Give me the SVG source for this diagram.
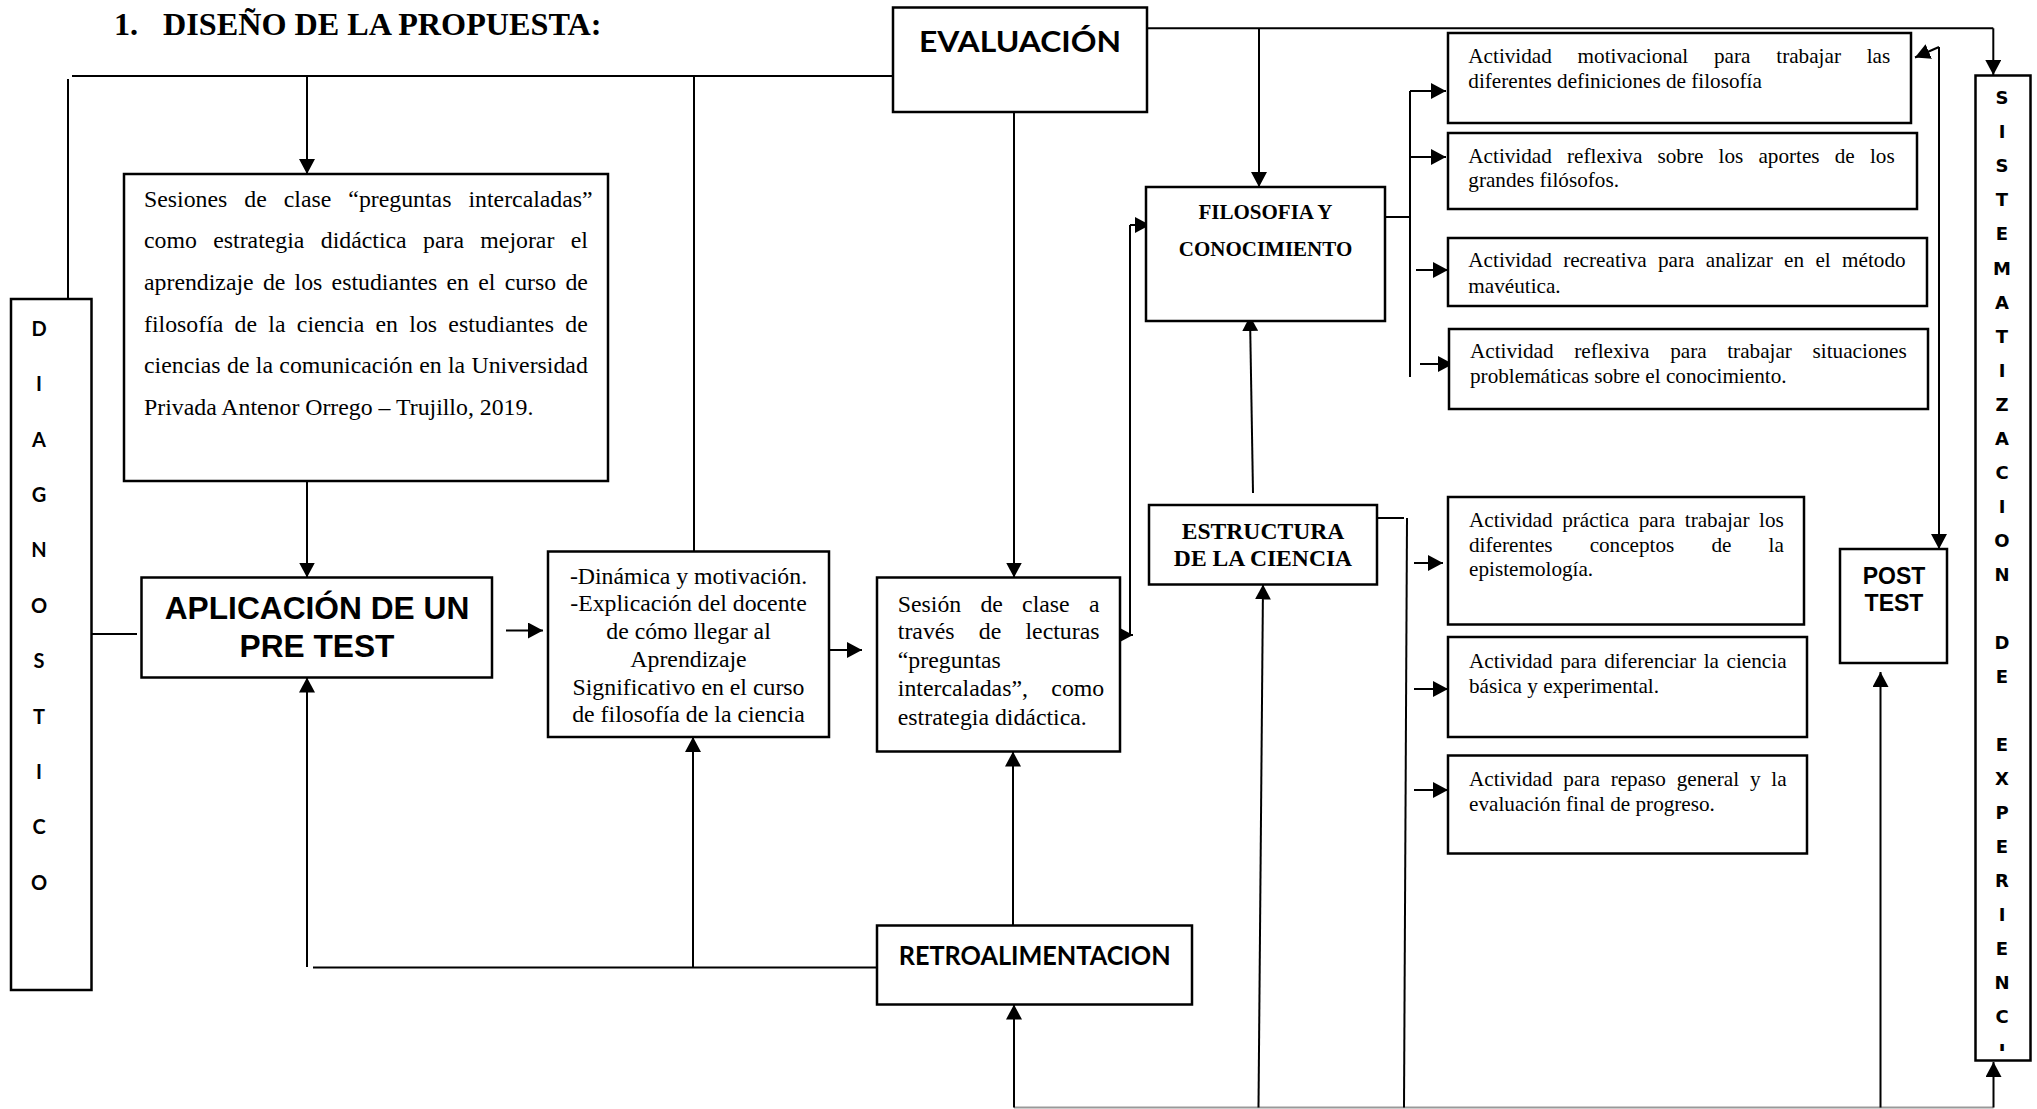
<svg xmlns="http://www.w3.org/2000/svg" width="2037" height="1109" viewBox="0 0 2037 1109">
<style>
.box{fill:#fff;stroke:#000;stroke-width:2.5}
.ln{fill:none;stroke:#000;stroke-width:2}
.ar{marker-end:url(#ah)}
.tr{font-family:"Liberation Serif","Times New Roman",serif;font-size:23.8px;fill:#000}
.ta{font-family:"Liberation Serif","Times New Roman",serif;font-size:21.2px;fill:#000}
.tb{font-family:"Liberation Serif","Times New Roman",serif;font-weight:bold;fill:#000}
.sb{font-family:"Liberation Sans",Arial,sans-serif;font-weight:bold;fill:#000}
.cb{font-family:Lato,"Open Sans",sans-serif;font-weight:bold;fill:#000}
.vb{font-family:"DejaVu Sans",Verdana,sans-serif;font-weight:bold;font-size:18px;fill:#000;text-anchor:middle}
.mid{text-anchor:middle}
</style>
<defs>
<marker id="ah" markerUnits="userSpaceOnUse" markerWidth="16" markerHeight="16" refX="15" refY="8" orient="auto" viewBox="0 0 16 16">
<path d="M0,0 L15,8 L0,16 Z" fill="#000"/>
</marker>
<clipPath id="sisclip"><rect x="1976" y="75" width="55" height="976"/></clipPath>
</defs>
<rect width="2037" height="1109" fill="#fff"/>

<g id="title">
<text class="tb" x="114" y="35" font-size="32.2">1.</text>
<text class="tb" x="163" y="35" font-size="32.2">DISEÑO DE LA PROPUESTA:</text>
</g>

<g id="connectors">
<path class="ln" d="M72,76 H893"/>
<path class="ln" d="M68,79 V299"/>
<path class="ln ar" d="M307,76 V174"/>
<path class="ln" d="M694,76 V551.5"/>
<path class="ln ar" d="M307,481 V577.5"/>
<path class="ln" d="M91.5,634 H137"/>
<path class="ln ar" d="M506,630.5 H543"/>
<path class="ln ar" d="M830,650 H862"/>
<path class="ln ar" d="M1014,112 V577.5"/>
<path class="ln" d="M877,967.5 H313"/>
<path class="ln ar" d="M307,967 V677.5"/>
<path class="ln ar" d="M693,967.5 V737"/>
<path class="ln ar" d="M1013,925.5 V751.5"/>
<path class="ln" d="M1014,1107.5 H1993.5" style="stroke:#999"/>
<path class="ln ar" d="M1014,1107.5 V1004.5"/>
<path class="ln ar" d="M1258.5,1107.5 L1263,584.5"/>
<path class="ln ar" d="M1253,493 L1250,316"/>
<path class="ln ar" d="M1117,635 H1133"/>
<path class="ln" d="M1130,635 V225"/>
<path class="ln ar" d="M1130,225 H1150"/>
<path class="ln" d="M1147,28.3 H1993.3"/>
<path class="ln ar" d="M1993.3,28.3 V75"/>
<path class="ln ar" d="M1259,28.3 V187"/>
<path class="ln" d="M1385,217 H1410"/>
<path class="ln" d="M1410,91 V377"/>
<path class="ln ar" d="M1410,91 H1446"/>
<path class="ln ar" d="M1410,157 H1446"/>
<path class="ln ar" d="M1416,270 H1448"/>
<path class="ln ar" d="M1420,364 H1453"/>
<path class="ln" d="M1377,518 H1404"/>
<path class="ln" d="M1407,518 L1404,1107.5"/>
<path class="ln ar" d="M1414,563 H1443"/>
<path class="ln ar" d="M1414,689 H1448"/>
<path class="ln ar" d="M1414,790 H1448"/>
<path class="ln ar" d="M1939,47 V549"/>
<path class="ln ar" d="M1939,47 L1915,57.5"/>
<path class="ln ar" d="M1880.5,1107.5 V672"/>
<path class="ln ar" d="M1993.5,1107.5 V1062"/>
</g>

<g id="diagnostico">
<rect class="box" x="11" y="299" width="80.5" height="691"/>
<text class="cb mid" font-size="20" x="39">
<tspan x="39" y="335.8">D</tspan><tspan x="39" y="391.2">I</tspan><tspan x="39" y="446.6">A</tspan><tspan x="39" y="502">G</tspan><tspan x="39" y="557.4">N</tspan><tspan x="39" y="612.8">O</tspan><tspan x="39" y="668.2">S</tspan><tspan x="39" y="723.6">T</tspan><tspan x="39" y="779">I</tspan><tspan x="39" y="834.4">C</tspan><tspan x="39" y="889.8">O</tspan>
</text>
</g>

<g id="sesiones">
<rect class="box" x="124" y="174" width="484" height="307"/>
<text class="tr" x="144" y="207" style="word-spacing:11.07px">Sesiones de clase “preguntas intercaladas”</text>
<text class="tr" x="144" y="248.3" style="word-spacing:10.42px">como estrategia didáctica para mejorar el</text>
<text class="tr" x="144" y="290" style="word-spacing:3.28px">aprendizaje de los estudiantes en el curso de</text>
<text class="tr" x="144" y="331.7" style="word-spacing:5.35px">filosofía de la ciencia en los estudiantes de</text>
<text class="tr" x="144" y="373.3" style="word-spacing:0.4px">ciencias de la comunicación en la Universidad</text>
<text class="tr" x="144" y="415">Privada Antenor Orrego – Trujillo, 2019.</text>
</g>

<g id="aplicacion">
<rect class="box" x="141.5" y="577.5" width="350.5" height="100"/>
<text class="sb mid" font-size="31.7" x="317" y="618.5">APLICACIÓN DE UN</text>
<text class="sb mid" font-size="31.7" x="317" y="656.6">PRE TEST</text>
</g>

<g id="dinamica">
<rect class="box" x="548" y="551.5" width="281" height="185.5"/>
<text class="tr mid" x="688.5" y="583.5">-Dinámica y motivación.</text>
<text class="tr mid" x="688.5" y="611">-Explicación del docente</text>
<text class="tr mid" x="688.5" y="639">de cómo llegar al</text>
<text class="tr mid" x="688.5" y="667">Aprendizaje</text>
<text class="tr mid" x="688.5" y="694.5">Significativo en el curso</text>
<text class="tr mid" x="688.5" y="721.5">de filosofía de la ciencia</text>
</g>

<g id="sesion">
<rect class="box" x="877" y="577.5" width="243" height="174"/>
<text class="tr" x="897.8" y="611.5" style="word-spacing:13.25px">Sesión de clase a</text>
<text class="tr" x="897.8" y="639" style="word-spacing:18.25px">través de lecturas</text>
<text class="tr" x="897.8" y="667.5">“preguntas</text>
<text class="tr" x="897.8" y="696" style="word-spacing:17.45px">intercaladas”, como</text>
<text class="tr" x="897.8" y="724.5">estrategia didáctica.</text>
</g>

<g id="evaluacion">
<rect class="box" x="893" y="7.5" width="254" height="104.5"/>
<text class="cb" font-size="29" x="919" y="52" textLength="202" lengthAdjust="spacingAndGlyphs">EVALUACIÓN</text>
</g>

<g id="retroalimentacion">
<rect class="box" x="877" y="925.5" width="315" height="79"/>
<text class="cb" font-size="26" x="898.7" y="965" textLength="272" lengthAdjust="spacingAndGlyphs">RETROALIMENTACION</text>
</g>

<g id="filosofia">
<rect class="box" x="1146" y="187" width="239" height="134"/>
<text class="tb mid" font-size="21" x="1265.5" y="219">FILOSOFIA Y</text>
<text class="tb mid" font-size="21" x="1265.5" y="256">CONOCIMIENTO</text>
</g>

<g id="estructura">
<rect class="box" x="1149" y="505" width="228" height="79.5"/>
<text class="tb mid" font-size="23.6" x="1263" y="538.5">ESTRUCTURA</text>
<text class="tb mid" font-size="23.6" x="1263" y="566">DE LA CIENCIA</text>
</g>

<g id="act1">
<rect class="box" x="1448" y="33" width="463" height="90"/>
<text class="ta" x="1468.3" y="63.3" style="word-spacing:20.48px">Actividad motivacional para trabajar las</text>
<text class="ta" x="1468.3" y="88.3">diferentes definiciones de filosofía</text>
</g>
<g id="act2">
<rect class="box" x="1448" y="133" width="469" height="76"/>
<text class="ta" x="1468.3" y="162.7" style="word-spacing:9.87px">Actividad reflexiva sobre los aportes de los</text>
<text class="ta" x="1468.3" y="186.7">grandes filósofos.</text>
</g>
<g id="act3">
<rect class="box" x="1448" y="238" width="479" height="68"/>
<text class="ta" x="1468.3" y="266.7" style="word-spacing:6.02px">Actividad recreativa para analizar en el método</text>
<text class="ta" x="1468.3" y="293.3">mavéutica.</text>
</g>
<g id="act4">
<rect class="box" x="1449" y="329" width="479" height="80"/>
<text class="ta" x="1470" y="358.3" style="word-spacing:15.35px">Actividad reflexiva para trabajar situaciones</text>
<text class="ta" x="1470" y="383.3">problemáticas sobre el conocimiento.</text>
</g>

<g id="act5">
<rect class="box" x="1448" y="497" width="356" height="127.5"/>
<text class="ta" x="1469" y="527.3" style="word-spacing:4.28px">Actividad práctica para trabajar los</text>
<text class="ta" x="1469" y="552.2" style="word-spacing:31.8px">diferentes conceptos de la</text>
<text class="ta" x="1469" y="576.3">epistemología.</text>
</g>
<g id="act6">
<rect class="box" x="1448" y="637" width="359" height="100"/>
<text class="ta" x="1469" y="667.5" style="word-spacing:2.33px">Actividad para diferenciar la ciencia</text>
<text class="ta" x="1469" y="693">básica y experimental.</text>
</g>
<g id="act7">
<rect class="box" x="1448" y="755.5" width="359" height="98"/>
<text class="ta" x="1469" y="786" style="word-spacing:5.52px">Actividad para repaso general y la</text>
<text class="ta" x="1469" y="811">evaluación final de progreso.</text>
</g>

<g id="posttest">
<rect class="box" x="1840" y="549" width="107" height="114"/>
<text class="sb mid" font-size="23" x="1894" y="583.6">POST</text>
<text class="sb mid" font-size="23" x="1894" y="611">TEST</text>
</g>

<g id="sistematizacion">
<rect class="box" x="1975.5" y="75.5" width="55" height="985"/>
<g clip-path="url(#sisclip)">
<text class="vb">
<tspan x="2002" y="104.3">S</tspan><tspan x="2002" y="138.3">I</tspan><tspan x="2002" y="172.4">S</tspan><tspan x="2002" y="206.4">T</tspan><tspan x="2002" y="240.4">E</tspan><tspan x="2002" y="274.5">M</tspan><tspan x="2002" y="308.5">A</tspan><tspan x="2002" y="342.5">T</tspan><tspan x="2002" y="376.5">I</tspan><tspan x="2002" y="410.6">Z</tspan><tspan x="2002" y="444.6">A</tspan><tspan x="2002" y="478.6">C</tspan><tspan x="2002" y="512.7">I</tspan><tspan x="2002" y="546.7">O</tspan><tspan x="2002" y="580.7">N</tspan><tspan x="2002" y="648.8">D</tspan><tspan x="2002" y="682.9">E</tspan><tspan x="2002" y="750.9">E</tspan><tspan x="2002" y="785">X</tspan><tspan x="2002" y="819">P</tspan><tspan x="2002" y="853">E</tspan><tspan x="2002" y="887.1">R</tspan><tspan x="2002" y="921.1">I</tspan><tspan x="2002" y="955.1">E</tspan><tspan x="2002" y="989.2">N</tspan><tspan x="2002" y="1023.2">C</tspan><tspan x="2002" y="1057.2">I</tspan>
</text>
</g>
</g>
</svg>
